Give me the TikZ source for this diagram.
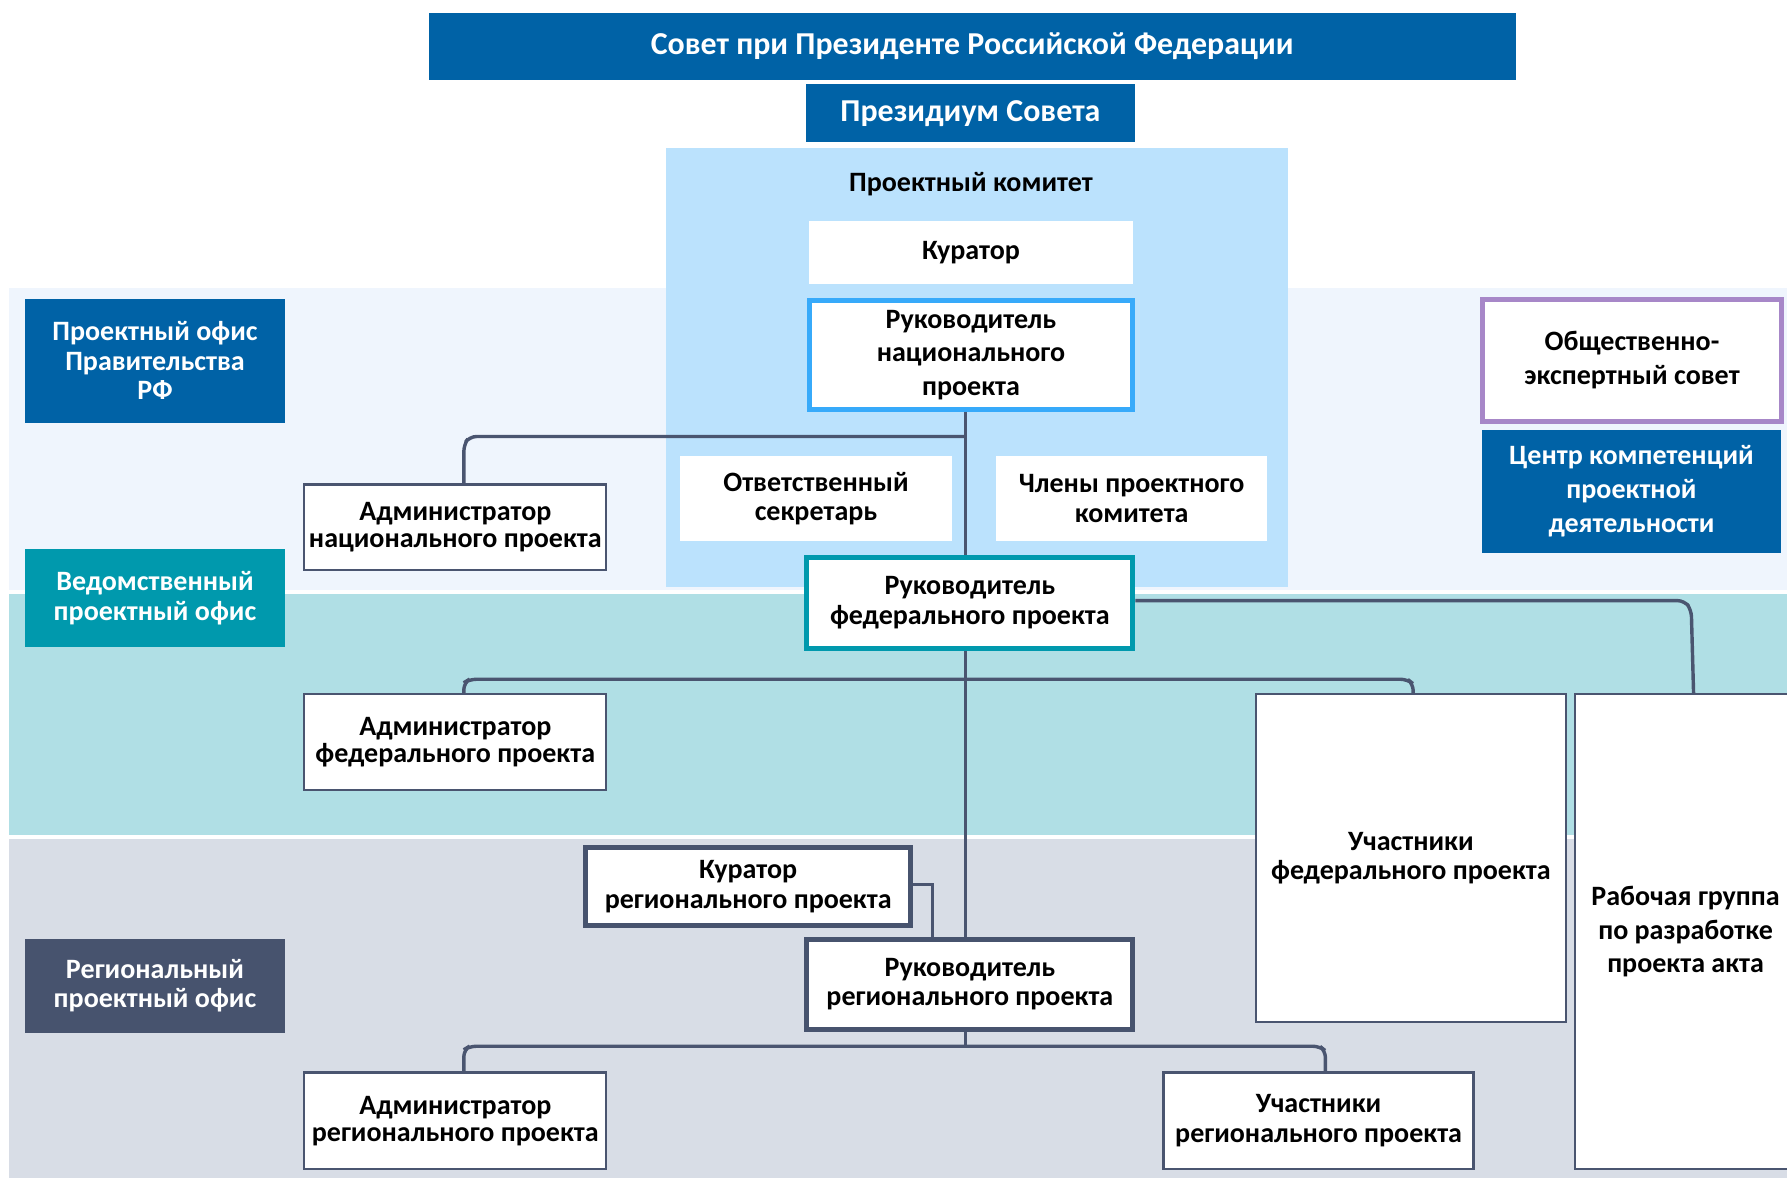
\documentclass[tikz,border=0pt]{standalone}
\usepackage{fontspec}
\setmainfont{Carlito}
\definecolor{dblue}{RGB}{0,98,166}
\definecolor{lband}{RGB}{239,245,253}
\definecolor{commit}{RGB}{187,226,253}
\definecolor{bblue}{RGB}{55,170,250}
\definecolor{tband}{RGB}{176,223,229}
\definecolor{teal}{RGB}{0,153,173}
\definecolor{gband}{RGB}{216,221,230}
\definecolor{slate}{RGB}{71,83,110}
\definecolor{purp}{RGB}{167,135,200}
\definecolor{conn}{RGB}{74,85,112}
\tikzset{
  txt/.style={font=\bfseries\fontsize{24.6}{26}\selectfont, align=center, inner sep=0pt},
  lines30/.style={font=\bfseries\fontsize{24.6}{29.5}\selectfont},
  lines24/.style={font=\bfseries\fontsize{24.6}{23.5}\selectfont},
  bigtxt/.style={font=\bfseries\fontsize{28}{30}\selectfont},
  filled/.style={txt, text=white, fill=#1, draw=none},
  plain/.style={txt, fill=white, draw=none},
  thinbox/.style={txt, fill=white, draw=conn, line width=2pt},
  thickbox/.style={txt, fill=white, draw=#1, line width=4.5pt},
  conline/.style={draw=conn, line width=3pt, rounded corners=6pt}
}
\begin{document}
\begin{tikzpicture}[x=1pt,y=-1pt]
\clip (0,0) rectangle (1568,1034);
\fill[white] (0,0) rectangle (1568,1034);
% bands
\fill[lband] (8,253) rectangle (1568,518);
\fill[tband] (8,521) rectangle (1568,733);
\fill[gband] (8,736) rectangle (1568,1034);
% committee area
\fill[commit] (584,130) rectangle (1130,515);

% top
\node[filled=dblue, bigtxt, minimum width=954pt, minimum height=59pt] (sovet) at (853,40.5) {Совет при Президенте Российской Федерации};
\node[filled=dblue, bigtxt, minimum width=289pt, minimum height=51pt] (prez) at (851.5,99.5) {Президиум Совета};
\node[txt] (pk) at (852,162) {Проектный комитет};
\node[plain, minimum width=284pt, minimum height=55pt] (kur) at (852,221.5) {Куратор};
\node[thickbox=bblue, lines30, minimum width=284pt, minimum height=95pt] (rnat) at (852,311.5) {Руководитель\\национального\\проекта};
\node[plain, minimum width=238pt, minimum height=75pt] (sekr) at (716,437.5) {Ответственный\\секретарь};
\node[plain, minimum width=238pt, minimum height=75pt] (chl) at (993,437.5) {Члены проектного\\комитета};
\node[thinbox, lines24, minimum width=265pt, minimum height=75pt] (anat) at (399.5,462.5) {Администратор\\национального проекта};
\node[thickbox=teal, minimum width=286pt, minimum height=80pt] (rfed) at (851,529) {Руководитель\\федерального проекта};
\node[thinbox, lines24, minimum width=265pt, minimum height=84pt] (afed) at (399.5,651) {Администратор\\федерального проекта};
\node[thinbox, minimum width=272pt, minimum height=288pt] (ufed) at (1238,753) {Участники\\федерального проекта};
\node[thinbox, lines30, minimum width=194pt, minimum height=417pt] (rg) at (1479,817.5) {Рабочая группа\\по разработке\\проекта акта};
\node[thickbox=slate, minimum width=285pt, minimum height=68pt] (kreg) at (656.5,778) {Куратор\\регионального проекта};
\node[thickbox=slate, minimum width=286pt, minimum height=79pt] (rreg) at (851,863.5) {Руководитель\\регионального проекта};
\node[thinbox, lines24, minimum width=265pt, minimum height=85pt] (areg) at (399.5,983.5) {Администратор\\регионального проекта};
\node[thinbox, minimum width=272pt, minimum height=85pt] (ureg) at (1157,983.5) {Участники\\регионального проекта};

% left labels
\node[filled=dblue, minimum width=228pt, minimum height=109pt] (po) at (136,316.5) {Проектный офис\\Правительства\\РФ};
\node[filled=teal, minimum width=228pt, minimum height=86pt] (vpo) at (136,525) {Ведомственный\\проектный офис};
\node[filled=slate, minimum width=228pt, minimum height=82pt] (rpo) at (136,865) {Региональный\\проектный офис};

% right
\node[thickbox=purp, lines30, minimum width=262pt, minimum height=107pt] (oes) at (1432,316) {Общественно-\\экспертный совет};
\node[filled=dblue, lines30, text=white, minimum width=263pt, minimum height=108pt] (ck) at (1431.5,431) {Центр компетенций\\проектной\\деятельности};

% connectors
\coordinate (jn) at (847,383);
\coordinate (jf) at (847,596);
\coordinate (jr) at (847,918);
\draw[conline] (rnat.south -| jn) -- (rfed.north -| jn);
\draw[conline] (rfed.south -| jf) -- (rreg.north -| jf);
\draw[conline] (jn) -- (412,383) -- (407,390) -- (anat.north -| 407,0);
\draw[conline] (407,609) -- (407,599) -- (412,596) -- (1235,596) -- (1240,600) -- (ufed.north -| 1240,0);
\draw[conline] (rfed.east |- 0,527) -- (1478,527) -- (1484,535) -- (rg.north -| 1486,0);
\draw[draw=conn, line width=2.5pt] (kreg.east |- 0,776) -- (818,776) -- (rreg.north -| 818,0);
\draw[conline] (rreg.south -| jr) -- (jr);
\draw[conline] (407,941) -- (407,921) -- (412,918) -- (1158,918) -- (1163,922) -- (ureg.north -| 1163,0);
\end{tikzpicture}
\end{document}
